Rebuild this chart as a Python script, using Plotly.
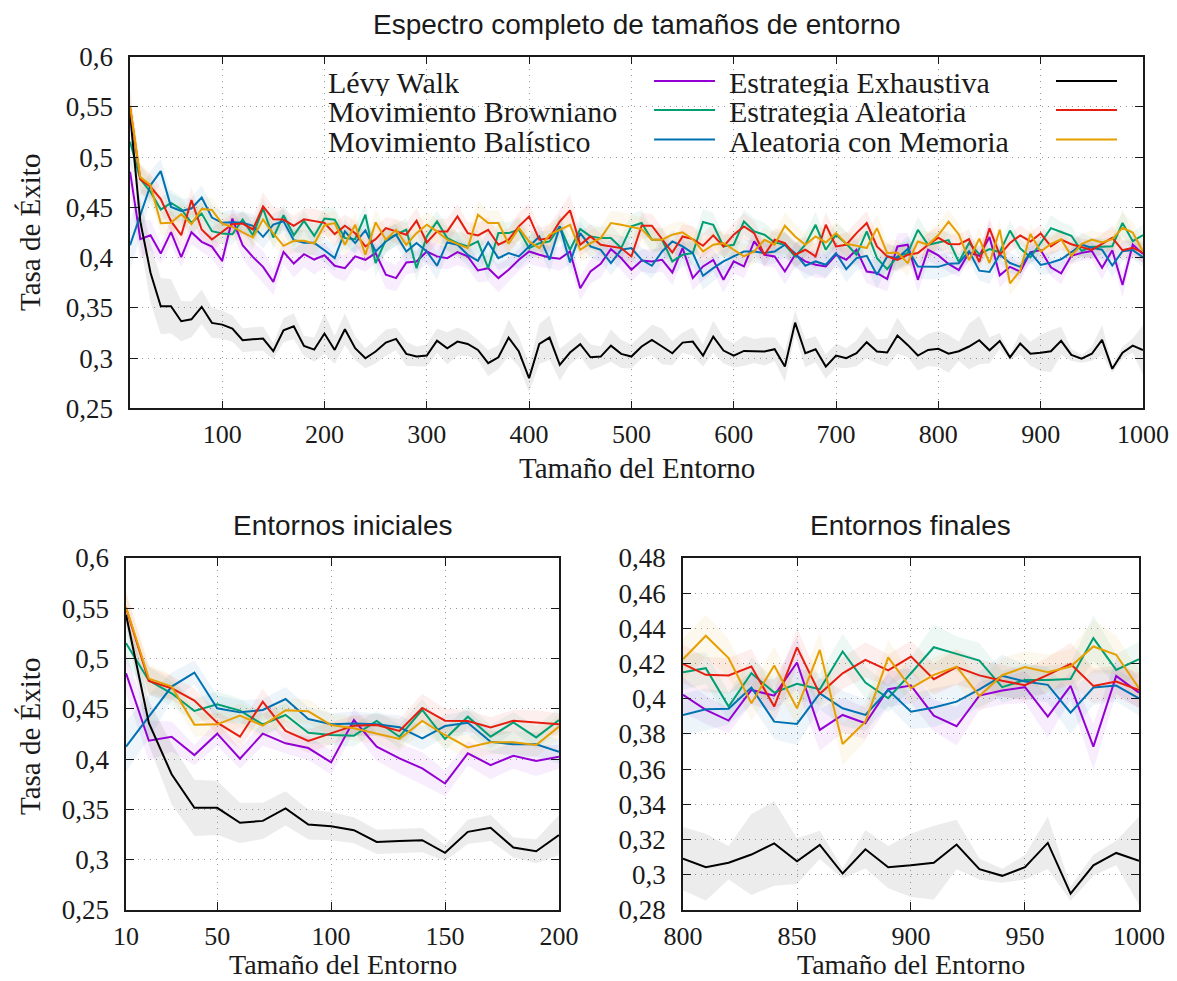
import plotly.graph_objects as go

# ---------------- data ----------------
tamanos = list(range(10, 1001, 10))

# Estrategia Exhaustiva (black)
exhaustiva = [0.5435, 0.436, 0.385, 0.3516, 0.3516, 0.3367, 0.3386, 0.351, 0.335, 0.3333,
              0.3293, 0.3177, 0.3187, 0.3194, 0.3068, 0.3277, 0.3317, 0.3121, 0.3084, 0.3244,
              0.3081, 0.3287, 0.3098, 0.2998, 0.3065, 0.3154, 0.3191, 0.3042, 0.3015, 0.3025,
              0.3174, 0.3098, 0.3164, 0.3141, 0.3081, 0.2949, 0.3008, 0.3204, 0.3065, 0.2799,
              0.3141, 0.3204, 0.2932, 0.3055, 0.3138, 0.3008, 0.3015, 0.3124, 0.3042, 0.3015,
              0.3115, 0.3181, 0.3115, 0.3048, 0.3154, 0.3164, 0.3025, 0.3214, 0.3075, 0.3025,
              0.3071, 0.3071, 0.3065, 0.3088, 0.2915, 0.3353, 0.3048, 0.3088, 0.2915, 0.3025,
              0.2998, 0.3048, 0.3158, 0.3065, 0.3055, 0.3224, 0.3131, 0.3025, 0.3081, 0.3092,
              0.3043, 0.3068, 0.3115, 0.3178, 0.3077, 0.317, 0.3007, 0.3145, 0.3043, 0.3054,
              0.3068, 0.3172, 0.3032, 0.2994, 0.3043, 0.3181, 0.2893, 0.3054, 0.3124, 0.3079]
exhaustiva_err = [0.010, 0.022, 0.030, 0.028, 0.027, 0.020, 0.018, 0.017, 0.015, 0.014,
                  0.013, 0.012, 0.012, 0.012, 0.008, 0.012, 0.013, 0.010, 0.012, 0.020,
                  0.014, 0.016, 0.012, 0.010, 0.012, 0.013, 0.011, 0.012, 0.010, 0.011,
                  0.012, 0.016, 0.014, 0.012, 0.010, 0.013, 0.012, 0.018, 0.015, 0.014,
                  0.020, 0.022, 0.016, 0.012, 0.012, 0.013, 0.010, 0.016, 0.014, 0.012,
                  0.012, 0.015, 0.018, 0.012, 0.010, 0.014, 0.011, 0.016, 0.013, 0.012,
                  0.015, 0.012, 0.014, 0.012, 0.015, 0.012, 0.014, 0.013, 0.012, 0.012,
                  0.010, 0.013, 0.016, 0.012, 0.014, 0.018, 0.012, 0.015, 0.016, 0.018,
                  0.019, 0.0095, 0.023, 0.024, 0.013, 0.008, 0.003, 0.011, 0.012, 0.018,
                  0.021, 0.014, 0.006, 0.004, 0.007, 0.015, 0.004, 0.006, 0.007, 0.025]

# purple
levy = [0.4854, 0.4183, 0.4223, 0.404, 0.4253, 0.4004, 0.4253, 0.4157, 0.411, 0.3967,
        0.4389, 0.4124, 0.4007, 0.3908, 0.3758, 0.4057, 0.3941, 0.4034, 0.3981, 0.4024,
        0.3919, 0.3895, 0.4012, 0.3978, 0.4045, 0.3829, 0.3796, 0.3952, 0.3962, 0.4061,
        0.4012, 0.3995, 0.4055, 0.4012, 0.3872, 0.3895, 0.3796, 0.3879, 0.3978, 0.4061,
        0.4028, 0.4002, 0.3988, 0.4061, 0.3696, 0.3862, 0.3939, 0.4085, 0.3995, 0.3879,
        0.3972, 0.3962, 0.3978, 0.3852, 0.4095, 0.3796, 0.3912, 0.3978, 0.3779, 0.3962,
        0.3912, 0.4161, 0.4028, 0.4012, 0.3862, 0.4028, 0.3962, 0.3929, 0.3912, 0.4028,
        0.3978, 0.4078, 0.3862, 0.3846, 0.3786, 0.4111, 0.4128, 0.3779, 0.4078, 0.4022,
        0.3937, 0.3876, 0.405, 0.4018, 0.4206, 0.3823, 0.3908, 0.3861, 0.4054, 0.4075,
        0.3904, 0.3844, 0.4018, 0.4047, 0.4066, 0.3899, 0.4073, 0.3728, 0.413, 0.4035]
levy_err = [0.020, 0.020, 0.015, 0.010, 0.012, 0.010, 0.012, 0.010, 0.012, 0.012,
            0.012, 0.014, 0.015, 0.016, 0.013, 0.012, 0.014, 0.013, 0.015, 0.012,
            0.012, 0.013, 0.011, 0.012, 0.010, 0.014, 0.013, 0.012, 0.011, 0.012,
            0.012, 0.011, 0.013, 0.012, 0.012, 0.013, 0.014, 0.012, 0.011, 0.012,
            0.012, 0.011, 0.012, 0.013, 0.012, 0.012, 0.014, 0.011, 0.012, 0.012,
            0.011, 0.012, 0.012, 0.013, 0.012, 0.012, 0.014, 0.012, 0.013, 0.012,
            0.012, 0.013, 0.012, 0.011, 0.013, 0.012, 0.012, 0.013, 0.012, 0.011,
            0.012, 0.013, 0.012, 0.014, 0.012, 0.013, 0.012, 0.013, 0.012, 0.010,
            0.008, 0.007, 0.008, 0.009, 0.015, 0.012, 0.010, 0.009, 0.010, 0.010,
            0.009, 0.011, 0.008, 0.008, 0.009, 0.012, 0.008, 0.013, 0.010, 0.009]

# green
browniano = [0.5153, 0.4781, 0.4655, 0.4479, 0.4545, 0.4482, 0.4346, 0.4439, 0.4263, 0.424,
             0.4233, 0.4379, 0.4223, 0.4489, 0.42, 0.4422, 0.4223, 0.4366, 0.4216, 0.4389,
             0.4377, 0.4194, 0.4184, 0.4427, 0.3945, 0.4178, 0.4228, 0.4277, 0.3895, 0.4211,
             0.436, 0.4194, 0.4144, 0.4111, 0.4161, 0.3895, 0.4244, 0.4244, 0.4277, 0.4094,
             0.4144, 0.4161, 0.4311, 0.4078, 0.4284, 0.4211, 0.4194, 0.4194, 0.4095, 0.4311,
             0.4344, 0.4178, 0.4178, 0.3962, 0.4028, 0.4045, 0.4354, 0.4327, 0.4111, 0.4128,
             0.436, 0.4261, 0.4228, 0.4151, 0.4128, 0.4012, 0.4128, 0.4327, 0.4078, 0.4228,
             0.4138, 0.4028, 0.4261, 0.3995, 0.3885, 0.4012, 0.4045, 0.4277, 0.4128, 0.4151,
             0.4174, 0.3956, 0.4145, 0.4035, 0.4085, 0.4054, 0.4269, 0.4092, 0.4003, 0.4145,
             0.4293, 0.4255, 0.4217, 0.4066, 0.4107, 0.4107, 0.4113, 0.4345, 0.4164, 0.4225]
browniano_err = [0.020, 0.014, 0.012, 0.012, 0.013, 0.012, 0.011, 0.012, 0.011, 0.010,
                 0.011, 0.010, 0.012, 0.011, 0.012, 0.011, 0.012, 0.010, 0.011, 0.012,
                 0.012, 0.011, 0.013, 0.012, 0.014, 0.012, 0.011, 0.012, 0.013, 0.012,
                 0.011, 0.012, 0.012, 0.013, 0.012, 0.013, 0.012, 0.011, 0.012, 0.012,
                 0.012, 0.011, 0.012, 0.012, 0.013, 0.012, 0.011, 0.013, 0.012, 0.012,
                 0.013, 0.012, 0.011, 0.013, 0.012, 0.012, 0.013, 0.012, 0.011, 0.012,
                 0.012, 0.013, 0.012, 0.011, 0.012, 0.013, 0.012, 0.013, 0.012, 0.012,
                 0.012, 0.013, 0.011, 0.012, 0.013, 0.012, 0.012, 0.013, 0.012, 0.010,
                 0.009, 0.008, 0.009, 0.008, 0.009, 0.009, 0.010, 0.009, 0.008, 0.009,
                 0.013, 0.010, 0.010, 0.009, 0.009, 0.008, 0.009, 0.013, 0.009, 0.010]

# blue
balistico = [0.4124, 0.4422, 0.4721, 0.4861, 0.4505, 0.4465, 0.4489, 0.4598, 0.4399, 0.4346,
             0.4353, 0.4346, 0.4316, 0.4207, 0.4329, 0.4362, 0.4173, 0.4147, 0.4147, 0.4074,
             0.3995, 0.4261, 0.4145, 0.4271, 0.4061, 0.4161, 0.4228, 0.4061, 0.4145, 0.4061,
             0.3919, 0.4151, 0.4128, 0.4028, 0.3968, 0.4151, 0.3995, 0.4045, 0.4012, 0.4111,
             0.4211, 0.3978, 0.4311, 0.3952, 0.4244, 0.4111, 0.4078, 0.3945, 0.4078, 0.4095,
             0.3978, 0.3919, 0.4061, 0.4161, 0.4111, 0.4045, 0.3819, 0.3895, 0.3962, 0.4012,
             0.4061, 0.4061, 0.4045, 0.4061, 0.4128, 0.4045, 0.3919, 0.3962, 0.3929, 0.4045,
             0.3885, 0.3995, 0.4018, 0.3829, 0.4012, 0.3995, 0.4085, 0.3912, 0.3912, 0.3908,
             0.394, 0.3944, 0.4064, 0.387, 0.3857, 0.4031, 0.3946, 0.3908, 0.405, 0.3927,
             0.395, 0.3984, 0.4054, 0.413, 0.4098, 0.4079, 0.3921, 0.4064, 0.4075, 0.4003]
balistico_err = [0.025, 0.022, 0.014, 0.012, 0.013, 0.012, 0.011, 0.012, 0.012, 0.011,
                 0.012, 0.011, 0.012, 0.012, 0.011, 0.012, 0.011, 0.012, 0.012, 0.012,
                 0.013, 0.012, 0.011, 0.012, 0.013, 0.012, 0.011, 0.012, 0.012, 0.013,
                 0.014, 0.012, 0.012, 0.011, 0.013, 0.012, 0.012, 0.013, 0.012, 0.012,
                 0.012, 0.013, 0.012, 0.013, 0.012, 0.011, 0.012, 0.012, 0.013, 0.012,
                 0.012, 0.013, 0.012, 0.011, 0.012, 0.012, 0.014, 0.013, 0.012, 0.012,
                 0.012, 0.011, 0.012, 0.012, 0.013, 0.012, 0.014, 0.012, 0.013, 0.012,
                 0.013, 0.012, 0.012, 0.014, 0.012, 0.012, 0.013, 0.012, 0.013, 0.012,
                 0.012, 0.009, 0.010, 0.010, 0.012, 0.009, 0.010, 0.009, 0.009, 0.010,
                 0.011, 0.010, 0.010, 0.012, 0.010, 0.010, 0.012, 0.010, 0.009, 0.010]

# red
aleatoria = [0.5501, 0.4778, 0.4705, 0.4582, 0.4363, 0.4223, 0.4572, 0.428, 0.418, 0.4256,
             0.4333, 0.4339, 0.428, 0.4509, 0.4382, 0.4379, 0.4316, 0.4382, 0.4366, 0.4346,
             0.4234, 0.4317, 0.4244, 0.4111, 0.4184, 0.4294, 0.4261, 0.4228, 0.4367, 0.4151,
             0.4261, 0.4261, 0.441, 0.4244, 0.4221, 0.4277, 0.4128, 0.4178, 0.4311, 0.441,
             0.4178, 0.4194, 0.436, 0.447, 0.4128, 0.4211, 0.4128, 0.4111, 0.4095, 0.4012,
             0.4317, 0.4317, 0.4178, 0.4051, 0.4211, 0.4184, 0.4118, 0.4221, 0.4111, 0.4228,
             0.4311, 0.4244, 0.4028, 0.4178, 0.4144, 0.4028, 0.4078, 0.4012, 0.4327, 0.4111,
             0.4128, 0.4244, 0.4344, 0.4111, 0.4012, 0.3978, 0.4028, 0.4045, 0.4128, 0.4198,
             0.4136, 0.4132, 0.4183, 0.3956, 0.4292, 0.4028, 0.4145, 0.4221, 0.4161, 0.424,
             0.4111, 0.418, 0.4133, 0.4102, 0.4077, 0.4136, 0.4198, 0.4073, 0.4098, 0.405]
aleatoria_err = [0.015, 0.014, 0.012, 0.012, 0.011, 0.012, 0.013, 0.011, 0.012, 0.011,
                 0.010, 0.011, 0.012, 0.014, 0.012, 0.011, 0.010, 0.011, 0.012, 0.011,
                 0.012, 0.011, 0.012, 0.013, 0.012, 0.011, 0.012, 0.012, 0.013, 0.012,
                 0.012, 0.013, 0.012, 0.011, 0.012, 0.013, 0.012, 0.012, 0.014, 0.013,
                 0.012, 0.013, 0.012, 0.016, 0.012, 0.012, 0.011, 0.012, 0.012, 0.012,
                 0.013, 0.012, 0.012, 0.011, 0.012, 0.013, 0.012, 0.012, 0.011, 0.012,
                 0.013, 0.012, 0.012, 0.012, 0.011, 0.012, 0.013, 0.012, 0.013, 0.012,
                 0.012, 0.011, 0.012, 0.012, 0.013, 0.012, 0.011, 0.012, 0.012, 0.011,
                 0.010, 0.010, 0.010, 0.009, 0.011, 0.008, 0.009, 0.010, 0.009, 0.009,
                 0.009, 0.010, 0.009, 0.009, 0.009, 0.010, 0.012, 0.010, 0.009, 0.010]

# orange
memoria = [0.5511, 0.4801, 0.4721, 0.4343, 0.4346, 0.4432, 0.4333, 0.4485, 0.4475, 0.4339,
           0.4306, 0.4256, 0.42, 0.4379, 0.424, 0.4117, 0.4167, 0.4167, 0.414, 0.4323,
           0.4344, 0.4128, 0.4327, 0.4028, 0.4351, 0.4178, 0.4277, 0.4128, 0.4244, 0.4327,
           0.4261, 0.4178, 0.4135, 0.4095, 0.4427, 0.4344, 0.4344, 0.4138, 0.4294, 0.4161,
           0.4095, 0.4228, 0.4277, 0.4327, 0.4078, 0.4144, 0.4194, 0.4344, 0.4327, 0.4304,
           0.4284, 0.4178, 0.4178, 0.4228, 0.4251, 0.4184, 0.4061, 0.4128, 0.4144, 0.4078,
           0.4012, 0.4061, 0.4178, 0.4128, 0.4317, 0.4211, 0.4128, 0.4211, 0.4151, 0.4244,
           0.4138, 0.4118, 0.4095, 0.4294, 0.4045, 0.4051, 0.3945, 0.4161, 0.4128, 0.4225,
           0.4358, 0.4231, 0.3975, 0.4189, 0.3946, 0.4278, 0.3743, 0.387, 0.4235, 0.406,
           0.4136, 0.4183, 0.4016, 0.4134, 0.418, 0.4151, 0.4183, 0.4297, 0.425, 0.406]
memoria_err = [0.016, 0.014, 0.012, 0.012, 0.011, 0.012, 0.011, 0.012, 0.012, 0.011,
               0.012, 0.011, 0.012, 0.011, 0.012, 0.011, 0.012, 0.011, 0.012, 0.012,
               0.012, 0.013, 0.012, 0.012, 0.013, 0.012, 0.011, 0.012, 0.012, 0.012,
               0.013, 0.012, 0.012, 0.013, 0.014, 0.012, 0.013, 0.012, 0.012, 0.012,
               0.012, 0.012, 0.013, 0.012, 0.012, 0.013, 0.012, 0.012, 0.013, 0.012,
               0.012, 0.013, 0.012, 0.012, 0.011, 0.012, 0.012, 0.013, 0.012, 0.012,
               0.012, 0.013, 0.012, 0.012, 0.014, 0.012, 0.012, 0.013, 0.012, 0.012,
               0.012, 0.012, 0.013, 0.014, 0.012, 0.013, 0.014, 0.012, 0.013, 0.012,
               0.012, 0.011, 0.010, 0.011, 0.010, 0.010, 0.012, 0.011, 0.010, 0.009,
               0.010, 0.010, 0.009, 0.010, 0.009, 0.010, 0.010, 0.015, 0.011, 0.010]

series = [
    (levy, levy_err, "#9400D3"),
    (browniano, browniano_err, "#009E73"),
    (balistico, balistico_err, "#0072B2"),
    (exhaustiva, exhaustiva_err, "#000000"),
    (aleatoria, aleatoria_err, "#E51E10"),
    (memoria, memoria_err, "#E69F00"),
]

legend_left = ["Lévy Walk", "Movimiento Browniano", "Movimiento Balístico"]
legend_mid = ["Estrategia Exhaustiva", "Estrategia Aleatoria", "Aleatoria con Memoria"]

y_ticks_main = [0.25, 0.3, 0.35, 0.4, 0.45, 0.5, 0.55, 0.6]
y_ticks_fin = [0.28, 0.30, 0.32, 0.34, 0.36, 0.38, 0.40, 0.42, 0.44, 0.46, 0.48]
x_ticks_full = [100, 200, 300, 400, 500, 600, 700, 800, 900, 1000]
x_ticks_ini = [10, 50, 100, 150, 200]
x_ticks_fin = [800, 850, 900, 950, 1000]


def fmt(v):
    s = ("%.2f" % v).rstrip("0").rstrip(".")
    return s.replace(".", ",")


def rgba(hexc, a):
    h = hexc.lstrip("#")
    r, g, b = int(h[0:2], 16), int(h[2:4], 16), int(h[4:6], 16)
    return "rgba(%d,%d,%d,%.3f)" % (r, g, b, a)


fig = go.Figure()

panels = [("x", "y", 10, 1000), ("x2", "y2", 10, 200), ("x3", "y3", 800, 1000)]
for xa, ya, lo, hi in panels:
    idx = [i for i, t in enumerate(tamanos) if lo <= t <= hi]
    xs = [tamanos[i] for i in idx]
    # bands
    for vals, err, col in series:
        up = [vals[i] + err[i] for i in idx]
        dn = [vals[i] - err[i] for i in idx]
        alpha = 0.075 if col == "#000000" else 0.07
        fig.add_trace(go.Scatter(x=xs + xs[::-1], y=up + dn[::-1], fill="toself",
                                 fillcolor=rgba(col, alpha), line=dict(width=0),
                                 mode="lines", hoverinfo="skip", xaxis=xa, yaxis=ya))
    for vals, err, col in series:
        fig.add_trace(go.Scatter(x=xs, y=[vals[i] for i in idx], mode="lines",
                                 line=dict(color=col, width=2), xaxis=xa, yaxis=ya))

SERIF = "Liberation Serif"
SANS = "Liberation Sans"
TXT = "#1a1a1a"

ax_common = dict(showline=True, linecolor=TXT, linewidth=1.5, mirror="ticks",
                 ticks="inside", ticklen=8, tickwidth=1, tickcolor=TXT,
                 showgrid=True, gridcolor="#9a9a9a", griddash="1px,5px", gridwidth=1,
                 zeroline=False, tickfont=dict(family=SERIF, size=27, color=TXT),
                 automargin=False)

xax = dict(ax_common, ticklabelstandoff=2, tickfont=dict(family=SERIF, size=26, color=TXT))
yax = dict(ax_common, ticklabelstandoff=10)

fig.update_layout(
    width=1177, height=981, margin=dict(l=0, r=0, t=0, b=0, autoexpand=False),
    paper_bgcolor="white", plot_bgcolor="white", showlegend=False,
    xaxis=dict(xax, domain=[0.1105, 0.9711], range=[10, 1000], anchor="y",
               tickvals=x_ticks_full, ticktext=[str(v) for v in x_ticks_full]),
    yaxis=dict(yax, domain=[0.5838, 0.9422], range=[0.25, 0.6], anchor="x",
               tickvals=y_ticks_main, ticktext=[fmt(v) for v in y_ticks_main]),
    xaxis2=dict(xax, domain=[0.1071, 0.4749], range=[10, 200], anchor="y2",
                tickvals=x_ticks_ini, ticktext=[str(v) for v in x_ticks_ini]),
    yaxis2=dict(yax, domain=[0.0724, 0.4312], range=[0.25, 0.6], anchor="x2",
                tickvals=y_ticks_main, ticktext=[fmt(v) for v in y_ticks_main]),
    xaxis3=dict(xax, domain=[0.5803, 0.9677], range=[800, 1000], anchor="y3",
                tickvals=x_ticks_fin, ticktext=[str(v) for v in x_ticks_fin]),
    yaxis3=dict(yax, domain=[0.0724, 0.4312], range=[0.28, 0.48], anchor="x3",
                tickvals=y_ticks_fin, ticktext=[fmt(v) for v in y_ticks_fin]),
)

ann = []
def txt(x, y, s, size, family=SERIF, xanchor="center", angle=0, h=None):
    d = dict(x=x, y=y, xref="paper", yref="paper", text=s, showarrow=False,
             xanchor=xanchor, yanchor="middle", textangle=angle,
             font=dict(family=family, size=size, color=TXT))
    if h is not None:
        d["height"] = h
    ann.append(d)

# titles
txt(0.5408, 0.9755, "Espectro completo de tamaños de entorno", 28, SANS)
txt(0.2910, 0.4648, "Entornos iniciales", 28, SANS)
txt(0.7740, 0.4648, "Entornos finales", 28, SANS)
# axis titles
txt(0.5408, 0.5230, "Tamaño del Entorno", 29, h=24)
txt(0.2910, 0.0170, "Tamaño del Entorno", 28, h=24)
txt(0.7740, 0.0170, "Tamaño del Entorno", 28, h=24)
txt(0.0255, 0.7625, "Tasa de Éxito", 29, angle=-90)
txt(0.0255, 0.2487, "Tasa de Éxito", 29, angle=-90)

# legend
rows_y = [0.9174, 0.8879, 0.8578]
for i in range(3):
    txt(0.2767, rows_y[i] - 0.002, legend_left[i], 30, xanchor="left", h=27)
    txt(0.6177, rows_y[i] - 0.002, legend_mid[i], 30, xanchor="left", h=27)
mid_cols = [series[0][2], series[1][2], series[2][2]]
right_cols = [series[3][2], series[4][2], series[5][2]]
shapes = []
for i in range(3):
    shapes.append(dict(type="line", xref="paper", yref="paper", x0=0.5557, x1=0.6075,
                       y0=rows_y[i], y1=rows_y[i], line=dict(color=mid_cols[i], width=2)))
    shapes.append(dict(type="line", xref="paper", yref="paper", x0=0.8972, x1=0.9490,
                       y0=rows_y[i], y1=rows_y[i], line=dict(color=right_cols[i], width=2)))

fig.update_layout(annotations=ann, shapes=shapes)
fig.write_html("out.html")
